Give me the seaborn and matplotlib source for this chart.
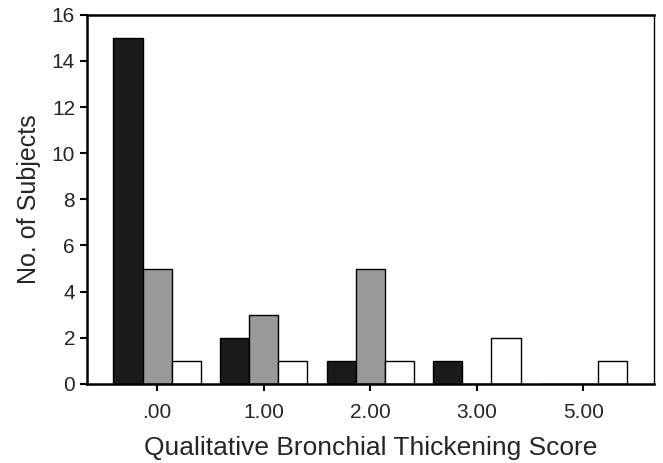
import matplotlib
matplotlib.use("Agg")
import matplotlib.pyplot as plt
import seaborn as sns
import pandas as pd

scores = [".00", "1.00", "2.00", "3.00", "5.00"]
group_a = [15, 2, 1, 1, 0]   # black bars
group_b = [5, 3, 5, 0, 0]    # grey bars
group_c = [1, 1, 1, 2, 1]    # white bars
groups = ["Group A", "Group B", "Group C"]
colors = ["#1a1a1a", "#999999", "#ffffff"]

df = pd.DataFrame({
    "score": scores * 3,
    "group": [groups[0]] * 5 + [groups[1]] * 5 + [groups[2]] * 5,
    "count": group_a + group_b + group_c,
})

sns.set_style("ticks")
plt.rcParams["font.family"] = ["Liberation Sans", "DejaVu Sans"]

fig = plt.figure(figsize=(6.63, 4.63), dpi=100)
ax = fig.add_axes([0.131, 0.171, 0.855, 0.797])
sns.barplot(data=df, x="score", y="count", hue="group", order=scores,
            hue_order=groups, palette=colors, width=0.82,
            edgecolor="black", linewidth=1.0, legend=False, ax=ax)

ax.set_xlim(-0.66, 4.66)
ax.set_ylim(0, 16)
ax.set_yticks(range(0, 17, 2))
ax.set_xlabel("Qualitative Bronchial Thickening Score", fontsize=19, labelpad=10)
ax.set_ylabel("No. of Subjects", fontsize=18, labelpad=8)
ax.tick_params(axis="both", labelsize=15, width=1.5, length=5, color="black")
ax.tick_params(axis="x", pad=9)
for side in ["left", "bottom", "top"]:
    ax.spines[side].set_linewidth(1.8)
ax.spines["right"].set_linewidth(1.0)
for s in ax.spines.values():
    s.set_color("black")

fig.savefig("out.png", dpi=100)
